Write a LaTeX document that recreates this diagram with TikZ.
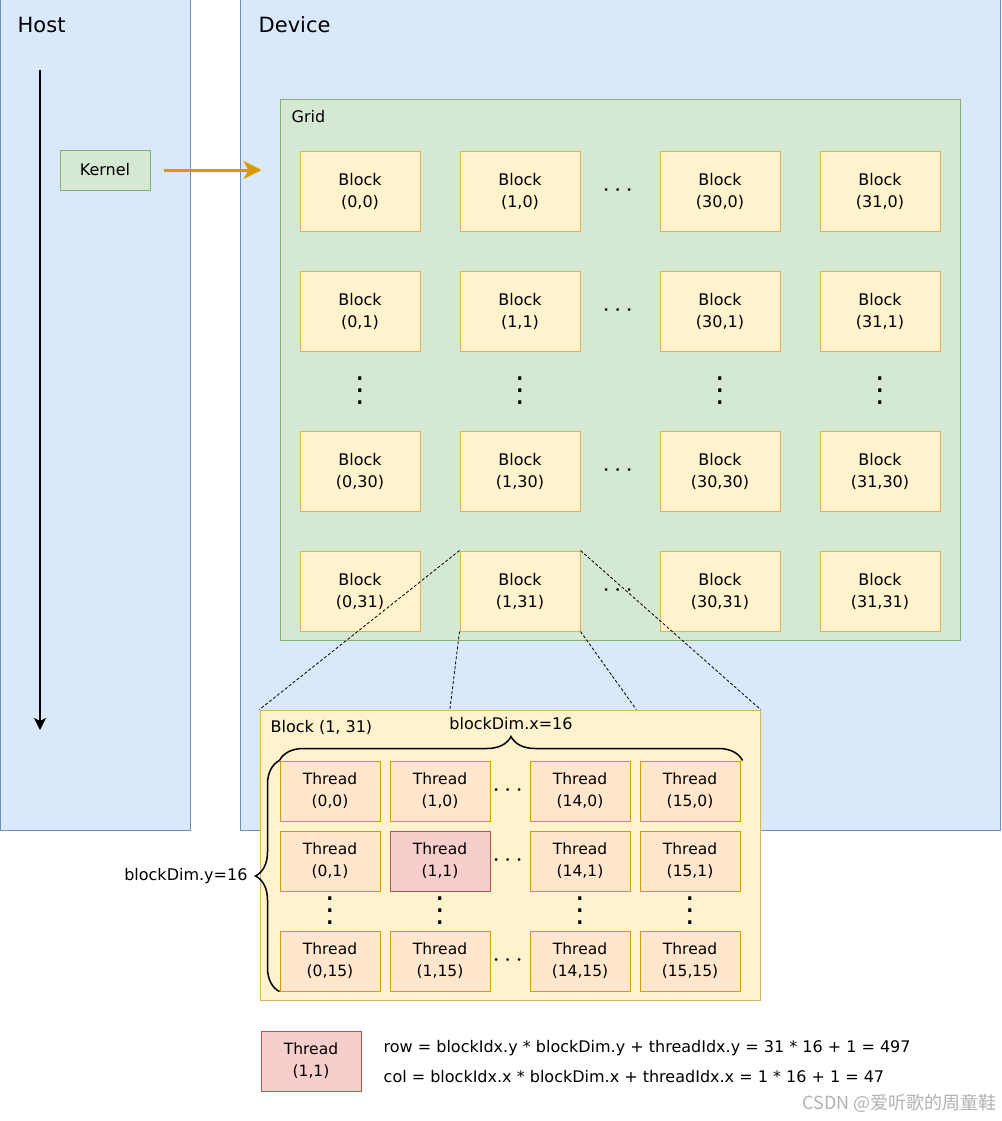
\documentclass[tikz,border=0pt]{standalone}
\usepackage{fontspec}
\setmainfont{DejaVu Sans}
\newfontfamily\cjkfont{Noto Sans CJK SC}
\usepackage{amsmath}
\usepackage{xcolor}
\usetikzlibrary{positioning,calc,arrows.meta,decorations.pathreplacing}
\tikzset{>=Stealth}

\definecolor{bluefill}{HTML}{DAE8FC}
\definecolor{bluedraw}{HTML}{6C8EBF}
\definecolor{greenfill}{HTML}{D5E8D4}
\definecolor{greendraw}{HTML}{82B366}
\definecolor{yellowfill}{HTML}{FFF2CC}
\definecolor{yellowdraw}{HTML}{D6B656}
\definecolor{orangefill}{HTML}{FFE6CC}
\definecolor{orangedraw}{HTML}{D79B00}
\definecolor{redfill}{HTML}{F8CECC}
\definecolor{reddraw}{HTML}{B85450}

\newcommand{\blockfont}{\fontsize{16}{22}\selectfont}
\newcommand{\threadfont}{\fontsize{15.5}{22}\selectfont}
\newcommand{\titlefont}{\fontsize{21}{24}\selectfont}
\newcommand{\coldots}{\vbox{\baselineskip=4pt\lineskiplimit=0pt\hbox{.}\hbox{.}\hbox{.}}}

\begin{document}
\begin{tikzpicture}[x=1pt, y=1pt, node distance=160pt,
    bluebox/.style={draw=bluedraw, fill=bluefill, line width=1pt, inner sep=0pt},
    greenbox/.style={draw=greendraw, fill=greenfill, line width=1pt, inner sep=0pt},
    block/.style={draw=yellowdraw, fill=yellowfill, line width=1pt, minimum width=120pt, minimum height=80pt, inner sep=0pt, align=center, font=\blockfont},
    thread/.style={draw=orangedraw, fill=orangefill, line width=1pt, minimum width=100pt, minimum height=60pt, inner sep=0pt, align=center, font=\threadfont},
    redthread/.style={thread, draw=reddraw, fill=redfill},
    title/.style={anchor=base west, inner sep=0pt},
    hdots/.style={inner sep=0pt, scale=2.6},
    vdotsn/.style={inner sep=0pt, scale=3},
    zoomline/.style={densely dashed, line width=0.8pt},
    bracey/.style={decorate, decoration={brace, amplitude=24pt}, line width=1.5pt}]
    \useasboundingbox[fill=white] (0,0) rectangle (1001,-1121);

    % Host and device
    \node (host) [bluebox, minimum width=190pt, minimum height=830pt] at (95,-415) {};
    \node (dev) [bluebox, minimum width=760pt, minimum height=830pt] at (620,-415) {};
    \node (hostT) [title, font=\titlefont] at ([xshift=18pt, yshift=-33pt]host.north west) {Host};
    \node (devT) [title, font=\titlefont] at ([xshift=19pt, yshift=-33pt]dev.north west) {Device};
    \node (grid) [greenbox, minimum width=680pt, minimum height=540pt] at (620,-370) {};
    \node (gridT) [title, font=\blockfont] at ([xshift=12pt, yshift=-23pt]grid.north west) {Grid};
    \node (kern) [greenbox, minimum width=90pt, minimum height=40pt, font=\blockfont] at (105,-170) {Kernel};

    % Time line and launch
    \coordinate (tstart) at (40,-70);
    \coordinate (tend) at (40,-730);
    \draw[-{Stealth[length=12pt, width=12pt, inset=3pt]}, line width=2pt] (tstart) -- (tend);
    \draw[-{Stealth[length=18pt, width=18pt, inset=5pt]}, line width=3pt, orangedraw, shorten <=13pt, shorten >=18pt] (kern.east) -- (kern.east -| grid.west);

    % Blocks
    \node (b0_0) [block] at (360,-191) {Block\\(0,0)};
    \node (b1_0) [block, right of=b0_0] {Block\\(1,0)};
    \node (b30_0) [block, right of=b1_0, xshift=40pt] {Block\\(30,0)};
    \node (b31_0) [block, right of=b30_0] {Block\\(31,0)};

    \node (b0_1) [block, below of=b0_0, yshift=40pt] {Block\\(0,1)};
    \node (b1_1) [block, right of=b0_1] {Block\\(1,1)};
    \node (b30_1) [block, right of=b1_1, xshift=40pt] {Block\\(30,1)};
    \node (b31_1) [block, right of=b30_1] {Block\\(31,1)};

    \node (b0_30) [block, below of=b0_1] {Block\\(0,30)};
    \node (b1_30) [block, right of=b0_30] {Block\\(1,30)};
    \node (b30_30) [block, right of=b1_30, xshift=40pt] {Block\\(30,30)};
    \node (b31_30) [block, right of=b30_30] {Block\\(31,30)};

    \node (b0_31) [block, below of=b0_30, yshift=40pt] {Block\\(0,31)};
    \node (b1_31) [block, right of=b0_31] {Block\\(1,31)};
    \node (b30_31) [block, right of=b1_31, xshift=40pt] {Block\\(30,31)};
    \node (b31_31) [block, right of=b30_31] {Block\\(31,31)};

    % Block dots
    \node (bh0) [hdots] at ($(b1_0)!.5!(b30_0)$) {$\cdots$};
    \node (bh1) [hdots] at ($(b1_1)!.5!(b30_1)$) {$\cdots$};
    \node (bh30) [hdots] at ($(b1_30)!.5!(b30_30)$) {$\cdots$};
    \node (bh31) [hdots] at ($(b1_31)!.5!(b30_31)$) {$\cdots$};
    \node (bv0) [vdotsn] at ($(b0_1)!.5!(b0_30)$) {\coldots};
    \node (bv1) [vdotsn] at ($(b1_1)!.5!(b1_30)$) {\coldots};
    \node (bv30) [vdotsn] at ($(b30_1)!.5!(b30_30)$) {\coldots};
    \node (bv31) [vdotsn] at ($(b31_1)!.5!(b31_30)$) {\coldots};

    % Block (1,31) in detail
    \node (blk) [block, minimum width=500pt, minimum height=290pt] at (510,-855) {};
    \node (blkT) [title, font=\blockfont] at ([xshift=11pt, yshift=-23pt]blk.north west) {Block (1, 31)};
    \coordinate (blkA) at ($(blk.north west)!.38!(blk.north east)$);
    \coordinate (blkB) at ($(blk.north west)!.752!(blk.north east)$);

    % Threads
    \begin{scope}[node distance=110pt]
    \node (t0_0) [thread] at (330,-791) {Thread\\(0,0)};
    \node (t1_0) [thread, right of=t0_0] {Thread\\(1,0)};
    \node (t14_0) [thread, right of=t1_0, xshift=30pt] {Thread\\(14,0)};
    \node (t15_0) [thread, right of=t14_0] {Thread\\(15,0)};

    \node (t0_1) [thread, below of=t0_0, yshift=40pt] {Thread\\(0,1)};
    \node (t1_1) [redthread, right of=t0_1] {Thread\\(1,1)};
    \node (t14_1) [thread, right of=t1_1, xshift=30pt] {Thread\\(14,1)};
    \node (t15_1) [thread, right of=t14_1] {Thread\\(15,1)};

    \node (t0_15) [thread, below of=t0_1, yshift=10pt] {Thread\\(0,15)};
    \node (t1_15) [thread, right of=t0_15] {Thread\\(1,15)};
    \node (t14_15) [thread, right of=t1_15, xshift=30pt] {Thread\\(14,15)};
    \node (t15_15) [thread, right of=t14_15] {Thread\\(15,15)};
    \end{scope}

    % Thread dots
    \node (th0) [hdots] at ($(t1_0)!.5!(t14_0)$) {$\cdots$};
    \node (th1) [hdots] at ($(t1_1)!.5!(t14_1)$) {$\cdots$};
    \node (th15) [hdots] at ($(t1_15)!.5!(t14_15)$) {$\cdots$};
    \node (tv0) [vdotsn] at ($(t0_1)!.5!(t0_15)$) {\coldots};
    \node (tv1) [vdotsn] at ($(t1_1)!.5!(t1_15)$) {\coldots};
    \node (tv14) [vdotsn] at ($(t14_1)!.5!(t14_15)$) {\coldots};
    \node (tv15) [vdotsn] at ($(t15_1)!.5!(t15_15)$) {\coldots};

    % Braces
    \draw[bracey] (t0_0.north west) -- node (dimx) [midway, above=27pt, font=\blockfont] {blockDim.x=16} ([xshift=2pt]t15_0.north east);
    \draw[bracey] (t0_15.south west) -- node (dimy) [midway, left=28pt, font=\blockfont] {blockDim.y=16} (t0_0.north west);

    % Zoom lines
    \draw[zoomline] (b1_31.north west) -- (blk.north west);
    \draw[zoomline] (b1_31.north east) -- (blk.north east);
    \draw[zoomline] (b1_31.south west) -- (blkA);
    \draw[zoomline] (b1_31.south east) -- (blkB);

    % Legend
    \node (leg) [redthread] at (311,-1061) {Thread\\(1,1)};
    \node (rowF) [anchor=west, inner sep=0pt, font=\blockfont] at ([xshift=22pt, yshift=13pt]leg.east) {row = blockIdx.y * blockDim.y + threadIdx.y = 31 * 16 + 1 = 497};
    \node (colF) [anchor=west, inner sep=0pt, font=\blockfont] at ([xshift=22pt, yshift=-16pt]leg.east) {col = blockIdx.x * blockDim.x + threadIdx.x = 1 * 16 + 1 = 47};
    \node (mark) [anchor=east, inner sep=0pt, text=gray!60, font=\cjkfont\fontsize{18}{20}\selectfont] at (997,-1103) {CSDN @爱听歌的周童鞋};
\end{tikzpicture}
\end{document}
